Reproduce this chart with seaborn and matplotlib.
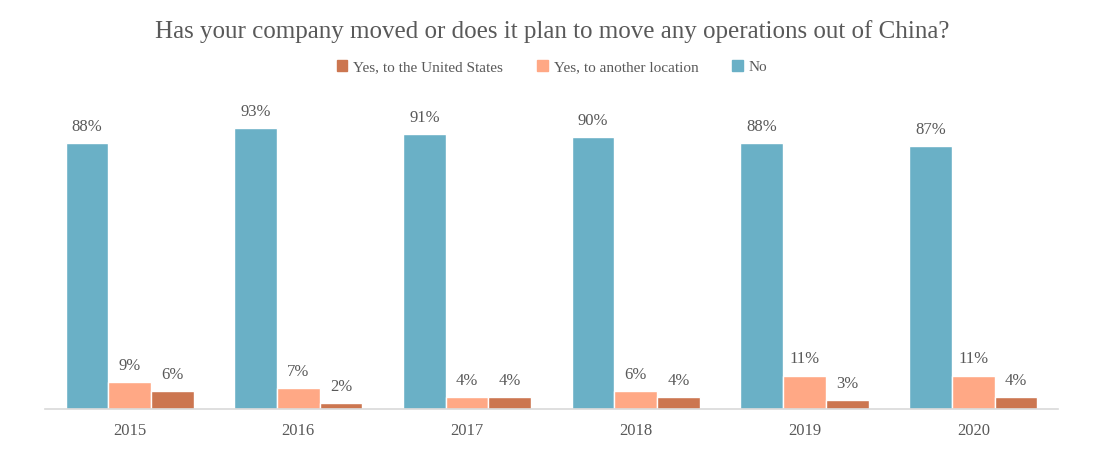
import pandas as pd
import matplotlib
matplotlib.use("Agg")
import matplotlib.pyplot as plt
from matplotlib.patches import Patch
import seaborn as sns

years = ["2015", "2016", "2017", "2018", "2019", "2020"]
no_vals = [88, 93, 91, 90, 88, 87]
other_vals = [9, 7, 4, 6, 11, 11]
us_vals = [6, 2, 4, 4, 3, 4]

series_names = ["No", "Yes, to another location", "Yes, to the United States"]
colors = {"No": "#6AB0C6", "Yes, to another location": "#FFA885",
          "Yes, to the United States": "#CC7650"}
text_color = "#595959"

df = pd.DataFrame({
    "Year": years * 3,
    "Answer": [series_names[0]] * 6 + [series_names[1]] * 6 + [series_names[2]] * 6,
    "Value": no_vals + other_vals + us_vals,
})

sns.set_style("white")
plt.rcParams["font.family"] = ["Liberation Serif", "DejaVu Serif"]

fig = plt.figure(figsize=(11.04, 4.53), dpi=100)
ax = fig.add_axes([0.041, 0.097, 0.917, 0.667])

sns.barplot(data=df, x="Year", y="Value", hue="Answer", hue_order=series_names,
            palette=colors, width=0.76, saturation=1, ax=ax, legend=False)

for cont in ax.containers:
    ax.bar_label(cont, labels=[f"{v:.0f}%" for v in cont.datavalues],
                 padding=6, fontsize=12, color=text_color)

ax.set_ylim(0, 100)
ax.set_xlim(-0.5, 5.5)
ax.set_xlabel("")
ax.set_ylabel("")
ax.set_yticks([])
ax.tick_params(axis="x", length=0, pad=10, labelsize=12, labelcolor=text_color)
for side in ["left", "right", "top"]:
    ax.spines[side].set_visible(False)
ax.spines["bottom"].set_color("#D9D9D9")
ax.spines["bottom"].set_linewidth(1.2)

fig.suptitle("Has your company moved or does it plan to move any operations out of China?",
             y=0.955, fontsize=18, color=text_color)

handles = [Patch(color=colors[n], label=n) for n in reversed(series_names)]
fig.legend(handles=handles, loc="center", bbox_to_anchor=(0.5, 0.852), ncol=3,
           frameon=False, fontsize=11, handlelength=0.7, handleheight=0.7,
           handletextpad=0.4, columnspacing=2.2, labelcolor=text_color)

fig.savefig("out.png", dpi=100)
